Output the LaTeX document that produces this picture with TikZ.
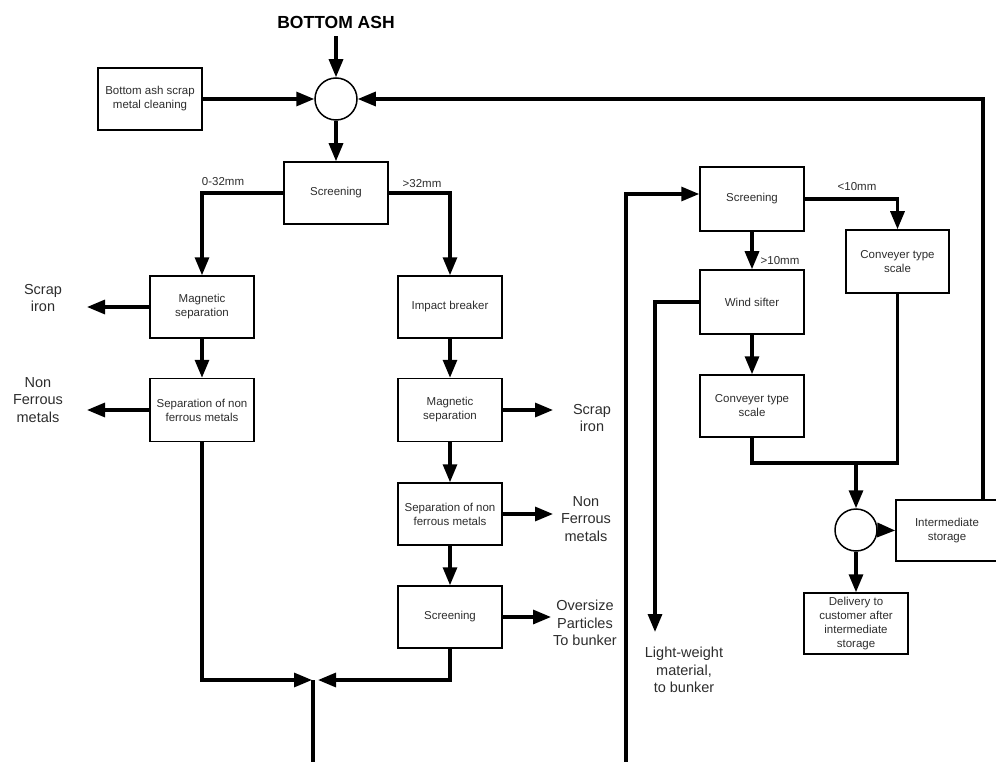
\documentclass[tikz,border=0pt]{standalone}
\usepackage{fontspec}
\setmainfont{Liberation Sans}
\usetikzlibrary{arrows.meta}
\definecolor{ink}{RGB}{45,45,45}
\begin{document}
\begin{tikzpicture}[x=1pt,y=-1pt,
  stepbox/.style={draw,line width=1.5pt,minimum width=104pt,minimum height=62pt,
    inner sep=1pt,align=center,text=ink,font=\fontsize{11.5}{14}\selectfont},
  mixer/.style={draw,circle,line width=1.5pt,minimum size=42pt,inner sep=0pt},
  outlabel/.style={align=center,text=ink,font=\fontsize{14.5}{17.5}\selectfont,inner sep=0pt},
  sizelabel/.style={text=ink,font=\fontsize{11.5}{13}\selectfont,inner sep=0pt},
  pipe/.style={line width=3.2pt},
  flow/.style={pipe,-{Triangle[length=18pt,width=14pt]}}]
\useasboundingbox (0,0) rectangle (996,762);

% feed and first mixing point
\node[font=\bfseries\fontsize{17.5}{19}\selectfont,inner sep=0pt] (ash) at (336,22) {BOTTOM ASH};
\node[mixer] (mix1) at (336,99) {};
\node[stepbox] (clean) at (150,99) {Bottom ash scrap\\metal cleaning};
\node[stepbox] (scr1) at (336,193) {Screening};

% fine fraction line (0-32mm)
\node[stepbox] (magL) at (202,307) {Magnetic\\separation};
\node[stepbox,minimum height=63pt] (sepL) at (202,410) {Separation of non\\ferrous metals};
\node[outlabel] (scrapL) at (43,298) {Scrap\\iron};
\node[outlabel] (nfL) at (38,400) {Non\\Ferrous\\metals};

% coarse fraction line (>32mm)
\node[stepbox] (imp) at (450,307) {Impact breaker};
\node[stepbox,minimum height=63pt] (magR) at (450,410) {Magnetic\\separation};
\node[stepbox] (sepR) at (450,514) {Separation of non\\ferrous metals};
\node[stepbox] (scr2) at (450,617) {Screening};
\node[outlabel] (scrapR) at (592,418) {Scrap\\iron};
\node[outlabel] (nfR) at (586,519) {Non\\Ferrous\\metals};
\node[outlabel] (over) at (585,623) {Oversize\\Particles\\To bunker};

% second plant
\node[stepbox,minimum height=64pt] (scr3) at (752,199) {Screening};
\node[stepbox,minimum height=64pt] (wind) at (752,302) {Wind sifter};
\node[stepbox] (conv1) at (752,406) {Conveyer type\\scale};
\node[stepbox,minimum width=103pt,minimum height=63pt] (conv2) at (897.5,261.5) {Conveyer type\\scale};
\node[mixer] (mix2) at (856,530) {};
\node[stepbox,minimum width=102pt,minimum height=61pt] (istore) at (947,530.5) {Intermediate\\storage};
\node[stepbox,minimum height=61pt] (deliv) at (856,623.5) {Delivery to\\customer after\\intermediate\\storage};
\node[outlabel] (light) at (684,670) {Light-weight\\material,\\to bunker};

% size labels
\node[sizelabel] at (223,182) {0-32mm};
\node[sizelabel] at (422,184) {>32mm};
\node[sizelabel] at (857,187) {<10mm};
\node[sizelabel] at (780,261) {>10mm};

% free ends of connectors
\coordinate (rc) at (983,99);
\coordinate (tipSL) at (87,307);
\coordinate (tipNL) at (87,410);
\coordinate (tipSR) at (553,410);
\coordinate (tipNR) at (553,514);
\coordinate (tipOV) at (551,617);
\coordinate (jn) at (313,680);
\coordinate (outL) at (313,762);
\coordinate (inR) at (626,762);
\coordinate (tipLW) at (655,632);
\coordinate (jm) at (856,463);

% connectors: feed
\draw[flow] ([yshift=-8pt]ash.south) -- (mix1.north);
\draw[flow] (clean.east) -- (mix1.west);
\draw[flow] (istore.north -| rc) -- (rc) -- (mix1.east);
\draw[flow] (mix1.south) -- (scr1.north);
\draw[flow] (scr1.west) -| (magL.north);
\draw[flow] (scr1.east) -| (imp.north);

% connectors: fine line
\draw[flow] (magL.west) -- (tipSL);
\draw[flow] (magL.south) -- (sepL.north);
\draw[flow] (sepL.west) -- (tipNL);
\draw[flow] (sepL.south) |- ([xshift=-1pt]jn);

% connectors: coarse line
\draw[flow] (imp.south) -- (magR.north);
\draw[flow] (magR.east) -- (tipSR);
\draw[flow] (magR.south) -- (sepR.north);
\draw[flow] (sepR.east) -- (tipNR);
\draw[flow] (sepR.south) -- (scr2.north);
\draw[flow] (scr2.east) -- (tipOV);
\draw[flow] (scr2.south) |- ([xshift=5pt]jn);
\draw[pipe] (jn) -- (outL);

% connectors: second plant
\draw[flow] (inR) |- ([yshift=5pt]scr3.west);
\draw[flow] (scr3.east) -| (conv2.north);
\draw[flow] (scr3.south) -- (wind.north);
\draw[flow] (wind.west) -| (tipLW);
\draw[flow] (wind.south) -- (conv1.north);
\draw[pipe] (conv1.south) |- (jm) -| (conv2.south);
\draw[flow] (jm) -- (mix2.north);
\draw[flow] (mix2.east) -- (istore.west);
\draw[flow] (mix2.south) -- (deliv.north);
\end{tikzpicture}
\end{document}
